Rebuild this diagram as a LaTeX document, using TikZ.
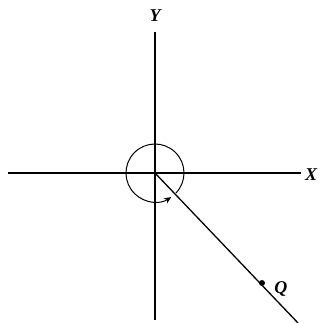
\documentclass[tikz,border=0pt]{standalone}
\usepackage{fontspec}
\setmainfont{Liberation Serif}
\usetikzlibrary{arrows.meta,positioning}

\begin{document}
\begin{tikzpicture}[
  x=1pt, y=1pt,
  axis/.style={line width=1.2pt},
  ray/.style={line width=1.3pt},
  turn/.style={line width=1pt, -{Stealth[length=7pt, width=6pt]}},
  lbl/.style={font=\bfseries\itshape\fontsize{18}{21}\selectfont, inner sep=0pt},
]
\useasboundingbox (-155,-150) rectangle (165,173);

% axes through the origin
\coordinate (o) at (0,0);
\coordinate (xl) at (-147,0);
\coordinate (xr) at (146,0);
\coordinate (yb) at (0,-147);
\coordinate (yt) at (0,141);
\node[lbl] (xlab) at (156,-2) {X};
\node[lbl] (ylab) at (0,157) {Y};
\draw[axis] (xl) -- (xr);
\draw[axis] (yb) -- (yt);

% the ray towards Q and the point on it
\coordinate (rayend) at (143,-150);
\draw[ray] (o) -- (rayend);
\node[circle, fill, inner sep=0pt, minimum size=6pt] (q) at (107,-110) {};
\node[lbl, right=9pt of q, yshift=-6pt] (qlab) {Q};

% full turn round the origin, ending back on the ray
\draw[turn] (-44:29) arc[start angle=-44, end angle=304, radius=29];
\end{tikzpicture}
\end{document}
